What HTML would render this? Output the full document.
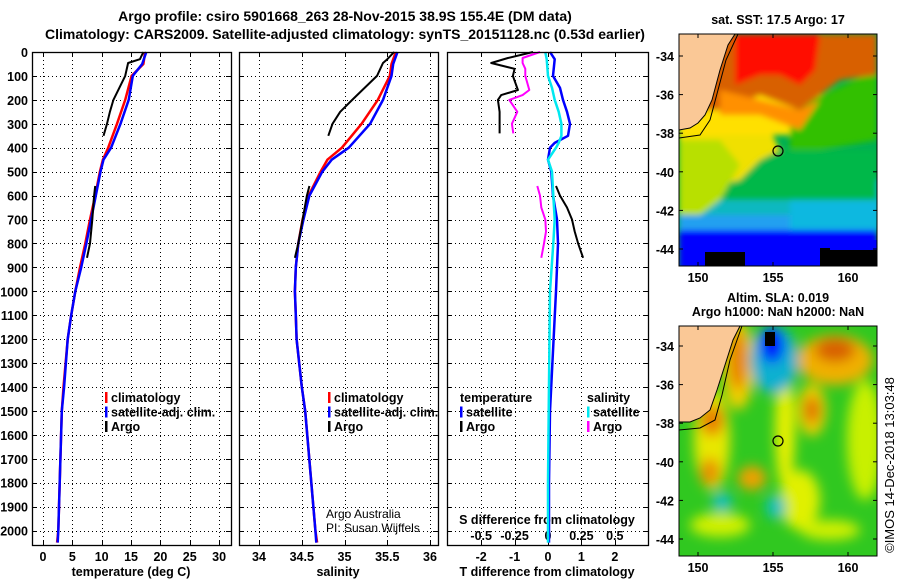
<!DOCTYPE html>
<html><head><meta charset="utf-8"><style>
html,body{margin:0;padding:0;background:#fff}
svg text{font-family:"Liberation Sans",sans-serif;font-weight:bold;font-size:12.5px;fill:#000}
</style></head><body>
<svg id="chart" width="900" height="580" viewBox="0 0 900 580" xmlns="http://www.w3.org/2000/svg">
<defs>
<filter id="blur" x="-20%" y="-20%" width="140%" height="140%"><feGaussianBlur stdDeviation="6"/></filter>
<filter id="blur2" x="-20%" y="-20%" width="140%" height="140%"><feGaussianBlur stdDeviation="3"/></filter>
<clipPath id="clipTop"><rect x="679" y="34" width="198" height="232"/></clipPath>
<clipPath id="clipBot"><rect x="679" y="326" width="198" height="230"/></clipPath>
</defs>
<text x="345" y="21" text-anchor="middle" style="font-size:14px">Argo profile: csiro 5901668_263 28-Nov-2015 38.9S 155.4E (DM data)</text>
<text x="345" y="39" text-anchor="middle" style="font-size:14px">Climatology: CARS2009. Satellite-adjusted climatology: synTS_20151128.nc (0.53d earlier)</text>
<g id="plots"></g>

<g>
<text x="778" y="24" text-anchor="middle">sat. SST: 17.5 Argo: 17</text>
<g clip-path="url(#clipTop)">
<rect x="679" y="34" width="198" height="232" fill="#00b050"/>
<g filter="url(#blur2)">
<rect x="679" y="200" width="198" height="40" fill="#10b8c0"/>
<rect x="679" y="215" width="198" height="20" fill="#20a0f0"/>
<rect x="790" y="180" width="90" height="50" fill="#10b8e0"/>
<rect x="679" y="230" width="198" height="40" fill="#0000ff"/>
<rect x="679" y="150" width="198" height="50" fill="#00b848"/>
<path d="M679 130 L770 130 L780 150 L760 160 L740 180 L700 190 L690 215 L679 215Z" fill="#f0e000"/>
<path d="M679 140 L720 140 L740 165 L720 200 L700 215 L679 215Z" fill="#b8e000"/>
<rect x="679" y="95" width="198" height="40" fill="#ffe000"/>
<path d="M790 110 L877 70 L877 140 L820 150 L790 150Z" fill="#30c000"/>
<path d="M679 34 L877 34 L877 75 L840 80 L800 110 L760 95 L720 110 L679 110Z" fill="#d86000"/>
<path d="M735 34 L820 34 L815 70 L800 85 L780 75 L760 75 L735 85Z" fill="#ff1000"/>
<path d="M720 90 L800 110 L820 100 L800 130 L760 115 L720 115Z" fill="#ff9000"/>
</g>
<rect x="705" y="252" width="40" height="14" fill="#000"/>
<rect x="820" y="248" width="57" height="18" fill="#000"/>
<rect x="830" y="240" width="47" height="10" fill="#0000ff"/>
<path d="M679 34 L735 34 L728 45 L720 70 L712 100 L705 115 L698 123 L690 128 L679 130Z" fill="#fac896" stroke="#000" stroke-width="1"/>
<path d="M738 34 L726 60 L718 90 L710 120 L700 135 L679 138" fill="none" stroke="#000" stroke-width="1"/>
<circle cx="778" cy="151" r="5" fill="none" stroke="#000" stroke-width="1.2"/>
</g>
<rect x="679" y="34" width="198" height="232" fill="none" stroke="#000"/>
</g>

<g>
<text x="778" y="302" text-anchor="middle">Altim. SLA: 0.019</text>
<text x="778" y="316" text-anchor="middle">Argo h1000: NaN h2000: NaN</text>
<g clip-path="url(#clipBot)">
<rect x="679" y="326" width="198" height="230" fill="#30c820"/>
<g filter="url(#blur)">
<ellipse cx="738" cy="365" rx="16" ry="45" fill="#f0d000"/>
<ellipse cx="738" cy="360" rx="9" ry="30" fill="#e88000"/>
<ellipse cx="712" cy="440" rx="18" ry="50" fill="#e8e800"/>
<ellipse cx="712" cy="420" rx="12" ry="16" fill="#e88000"/>
<ellipse cx="710" cy="472" rx="10" ry="14" fill="#e89000"/>
<ellipse cx="752" cy="478" rx="14" ry="12" fill="#f0a000"/>
<ellipse cx="812" cy="410" rx="14" ry="26" fill="#f0d000"/>
<ellipse cx="812" cy="410" rx="8" ry="14" fill="#e07000"/>
<ellipse cx="835" cy="360" rx="38" ry="25" fill="#f0b000"/>
<ellipse cx="835" cy="350" rx="20" ry="12" fill="#d86000"/>
<ellipse cx="785" cy="430" rx="10" ry="60" fill="#e8f000"/>
<ellipse cx="800" cy="500" rx="20" ry="30" fill="#e0f000"/>
<ellipse cx="720" cy="525" rx="30" ry="12" fill="#d0f000"/>
<ellipse cx="865" cy="440" rx="18" ry="60" fill="#c8f000"/>
<ellipse cx="830" cy="530" rx="30" ry="10" fill="#d0f000"/>
<ellipse cx="774" cy="360" rx="24" ry="34" fill="#10b0d0"/>
<ellipse cx="772" cy="345" rx="12" ry="18" fill="#0000ff"/>
<ellipse cx="722" cy="502" rx="10" ry="10" fill="#10c0c0"/>
<ellipse cx="776" cy="507" rx="10" ry="12" fill="#10c0c0"/>
</g>
<rect x="765" y="332" width="10" height="14" fill="#000"/>
<path d="M679 326 L740 326 L733 340 L725 365 L717 390 L710 410 L700 418 L690 422 L679 422Z" fill="#fac896" stroke="#000" stroke-width="1"/>
<path d="M742 326 L730 360 L722 395 L715 420 L700 428 L679 430" fill="none" stroke="#000" stroke-width="1"/>
<circle cx="778" cy="441" r="5" fill="none" stroke="#000" stroke-width="1.2"/>
</g>
<rect x="679" y="326" width="198" height="230" fill="none" stroke="#000"/>
</g>
<text transform="translate(894,465) rotate(-90)" text-anchor="middle" style="font-weight:normal;font-size:13px">©IMOS 14-Dec-2018 13:03:48</text>
<g id="mapaxes"></g>
</svg>
<script>
const depthTicks = [0,100,200,300,400,500,600,700,800,900,1000,1100,1200,1300,1400,1500,1600,1700,1800,1900,2000];
const profDepths = [0,50,100,200,300,400,450,500,600,700,800,900,1000,1100,1200,1400,1500,2000,2050];
const climT = [17.4,17.1,15.1,14.0,12.6,11.1,10.2,9.7,8.9,8.0,7.2,6.3,5.5,4.8,4.2,3.5,3.2,2.6,2.4];
const satT  = [17.6,16.9,15.3,14.6,13.2,11.6,10.3,9.8,9.0,8.2,7.4,6.5,5.5,4.8,4.2,3.6,3.2,2.6,2.5];
const climS = [35.60,35.55,35.53,35.39,35.20,34.97,34.80,34.72,34.58,34.51,34.46,34.43,34.42,34.43,34.44,34.50,34.54,34.66,34.68];
const satS  = [35.62,35.57,35.55,35.45,35.30,35.05,34.85,34.74,34.59,34.52,34.46,34.43,34.42,34.43,34.44,34.50,34.54,34.66,34.67];
const argoDepthsA = [0,30,46,100,200,250,300,350];
const argoTA = [17.1,16.5,14.5,14.0,12.0,11.4,10.9,10.3];
const argoSA = [35.58,35.50,35.45,35.38,35.09,34.95,34.86,34.81];
const argoDepthsB = [560,600,700,800,860];
const argoTB = [8.9,8.7,8.4,8.0,7.5];
const argoSB = [34.59,34.56,34.51,34.46,34.42];
const dDepthsA = [0,25,46,70,100,159,180,200,250,300,340];
const dTArgoA = [-0.45,-1.2,-1.7,-1.0,-1.05,-0.9,-1.4,-1.5,-1.45,-1.45,-1.45];
const dSArgoA = [-0.06,-0.19,-0.19,-0.17,-0.17,-0.14,-0.19,-0.29,-0.23,-0.27,-0.26];
const dDepthsB = [560,600,650,700,750,800,860];
const dTArgoB = [0.24,0.36,0.57,0.72,0.8,0.9,1.05];
const dSArgoB = [-0.08,-0.06,-0.05,-0.02,-0.015,-0.03,-0.05];
const dDepthsSat = [0,30,100,150,200,250,300,350,380,400,450,500,600,700,800,1000,1500,1800,2050];
const dTSat = [0.06,0.2,0.15,0.36,0.45,0.57,0.66,0.6,0.2,0.06,0.0,0.1,0.15,0.27,0.3,0.24,0.06,0.03,0.03];
const dSSat = [-0.02,-0.01,0.0,0.03,0.05,0.08,0.10,0.10,0.08,0.06,0.0,0.03,0.04,0.05,0.04,0.015,0.005,0.0,0.0];
const tTicks = [0,5,10,15,20,25,30];
const sTicks = [34,34.5,35,35.5,36];
const dtTicks = [-2,-1,0,1,2];
const dsTicks = [-0.5,-0.25,0,0.25,0.5];
const dsTickLabels = ['-0.5','-0.25','0','0.25','0.5'];
const latTicks = [-34,-36,-38,-40,-42,-44];
const lonTicks = [150,155,160];

const NS='http://www.w3.org/2000/svg';
const yD = d => 52 + d*0.2393;
const xT = t => 43 + t*5.87;
const xS = s => 259 + (s-34)*85.5;
const xDT = t => 548 + t*33.4;
const xDS = s => 548 + s*133.6;
const root = document.getElementById('plots');
function el(tag, attrs, parent){const e=document.createElementNS(NS,tag);for(const k in attrs)e.setAttribute(k,attrs[k]);(parent||root).appendChild(e);return e;}
function txt(x,y,s,anchor,parent,extra){const t=el('text',Object.assign({x:x,y:y,'text-anchor':anchor||'start'},extra||{}),parent);t.textContent=s;return t;}
function line(xs,ds,fx,color,w,name,parent){
  let p='';for(let i=0;i<ds.length;i++){p+=(i?'L':'M')+fx(xs[i]).toFixed(1)+' '+yD(ds[i]).toFixed(1);}
  const e=el('path',{d:p,fill:'none',stroke:color,'stroke-width':w,'stroke-linejoin':'round'},parent);
  
  
  return e;
}
const px = v => Math.round(v)+0.5;
const GRID={stroke:'#000','stroke-dasharray':'1 3','stroke-width':1,'shape-rendering':'crispEdges'};
const panels=[{x0:32,x1:231,name:'temperature-panel'},{x0:239,x1:438,name:'salinity-panel'},{x0:447,x1:648,name:'difference-panel'}];
const pg=[];
panels.forEach((p,i)=>{
  const g=el('g',{});
  
  
  pg.push(g);
  depthTicks.forEach(d=>{ const y=px(yD(d));
    if(d>0) el('line',Object.assign({x1:p.x0,x2:p.x1,y1:y,y2:y},GRID),g);
    el('line',{x1:p.x0,x2:p.x0+5,y1:y,y2:y,stroke:'#000','shape-rendering':'crispEdges'},g);
    el('line',{x1:p.x1-5,x2:p.x1,y1:y,y2:y,stroke:'#000','shape-rendering':'crispEdges'},g);});
});
depthTicks.forEach(d=>{const t=txt(28,yD(d)+5,String(d),'end');
  
  });
function vgrid(g,ticks,fx,y0,y1){ticks.forEach(v=>{const x=px(fx(v));el('line',Object.assign({x1:x,x2:x,y1:y0,y2:y1},GRID),g);el('line',{x1:x,x2:x,y1:545,y2:540,stroke:'#000','shape-rendering':'crispEdges'},g);el('line',{x1:x,x2:x,y1:52,y2:57,stroke:'#000','shape-rendering':'crispEdges'},g);});}
vgrid(pg[0],tTicks,xT,52,545); vgrid(pg[1],sTicks,xS,52,545); vgrid(pg[2],dtTicks,xDT,52,545);
tTicks.forEach(v=>{const t=txt(xT(v),561,String(v),'middle',pg[0]);});
sTicks.forEach(v=>{const t=txt(xS(v),561,String(v),'middle',pg[1]);});
dtTicks.forEach(v=>{const t=txt(xDT(v),561,String(v),'middle',pg[2]);});
dsTicks.forEach((v,i)=>{const t=txt(xDS(v),540,dsTickLabels[i],'middle',pg[2]);});
let t;
t=txt(131,576,'temperature (deg C)','middle',pg[0]);
t=txt(338,576,'salinity','middle',pg[1]);
t=txt(547,576,'T difference from climatology','middle',pg[2]);
t=txt(547,524,'S difference from climatology','middle',pg[2]);
t=txt(326,518,'Argo Australia','start',pg[1],{style:'font-weight:normal;font-size:12px'});
t=txt(326,532,'PI: Susan Wijffels','start',pg[1],{style:'font-weight:normal;font-size:12px'});

line(climT,profDepths,xT,'#ff0000',2.5,'temperature-climatology-line',pg[0]);
line(satT,profDepths,xT,'#0000ff',2.5,'temperature-satellite-line',pg[0]);
line(argoTA,argoDepthsA,xT,'#000',2,'temperature-argo-line-upper',pg[0]);
line(argoTB,argoDepthsB,xT,'#000',2,'temperature-argo-line-lower',pg[0]);
line(climS,profDepths,xS,'#ff0000',2.5,'salinity-climatology-line',pg[1]);
line(satS,profDepths,xS,'#0000ff',2.5,'salinity-satellite-line',pg[1]);
line(argoSA,argoDepthsA,xS,'#000',2,'salinity-argo-line-upper',pg[1]);
line(argoSB,argoDepthsB,xS,'#000',2,'salinity-argo-line-lower',pg[1]);
line(dTSat,dDepthsSat,xDT,'#0000ff',2.5,'t-diff-satellite-line',pg[2]);
line(dSSat,dDepthsSat,xDS,'#00e8f0',2.5,'s-diff-satellite-line',pg[2]);
line(dTArgoA,dDepthsA,xDT,'#000',2,'t-diff-argo-line-upper',pg[2]);
line(dTArgoB,dDepthsB,xDT,'#000',2,'t-diff-argo-line-lower',pg[2]);
line(dSArgoA,dDepthsA,xDS,'#ff00ff',2,'s-diff-argo-line-upper',pg[2]);
line(dSArgoB,dDepthsB,xDS,'#ff00ff',2,'s-diff-argo-line-lower',pg[2]);

function legend(g,x,y,items,name){
  const lg=el('g',{},g);
  
  
  items.forEach((it,i)=>{const yy=y+i*14.5;
    if(it[1]) el('rect',{x:x,y:yy-10,width:2.5,height:11,fill:it[1]},lg);
    txt(x+(it[1]?6:0),yy,it[0],'start',lg);});
}
legend(pg[0],105,402,[['climatology','#ff0000'],['satellite-adj. clim.','#0000ff'],['Argo','#000']],'temperature-legend');
legend(pg[1],328,402,[['climatology','#ff0000'],['satellite-adj. clim.','#0000ff'],['Argo','#000']],'salinity-legend');
legend(pg[2],460,402,[['temperature',null],['satellite','#0000ff'],['Argo','#000']],'t-diff-legend');
legend(pg[2],587,402,[['salinity',null],['satellite','#00e8f0'],['Argo','#ff00ff']],'s-diff-legend');
panels.forEach((p,i)=>el('rect',{x:p.x0+0.5,y:52.5,width:p.x1-p.x0,height:493,fill:'none',stroke:'#000','stroke-width':1.3},pg[i]));

const ma=document.getElementById('mapaxes');
[[34,56,249],[326,346,539]].forEach(m=>{
  const top=m[0],y34=m[1],y44=m[2],bot=top+(top===34?232:230);
  latTicks.forEach(l=>{
    const yy=y34+((-l)-34)*(y44-y34)/10;
    el('line',{x1:679,x2:683,y1:yy,y2:yy,stroke:'#000'},ma);el('line',{x1:873,x2:877,y1:yy,y2:yy,stroke:'#000'},ma);
    const tt=txt(674,yy+5,String(l),'end',ma);});
  lonTicks.forEach(l=>{const x=698+(l-150)*15;
    el('line',{x1:x,x2:x,y1:top,y2:top+4,stroke:'#000'},ma);el('line',{x1:x,x2:x,y1:bot,y2:bot-4,stroke:'#000'},ma);
    const tt=txt(x,bot+16,String(l),'middle',ma);});
});
</script>
</body></html>
